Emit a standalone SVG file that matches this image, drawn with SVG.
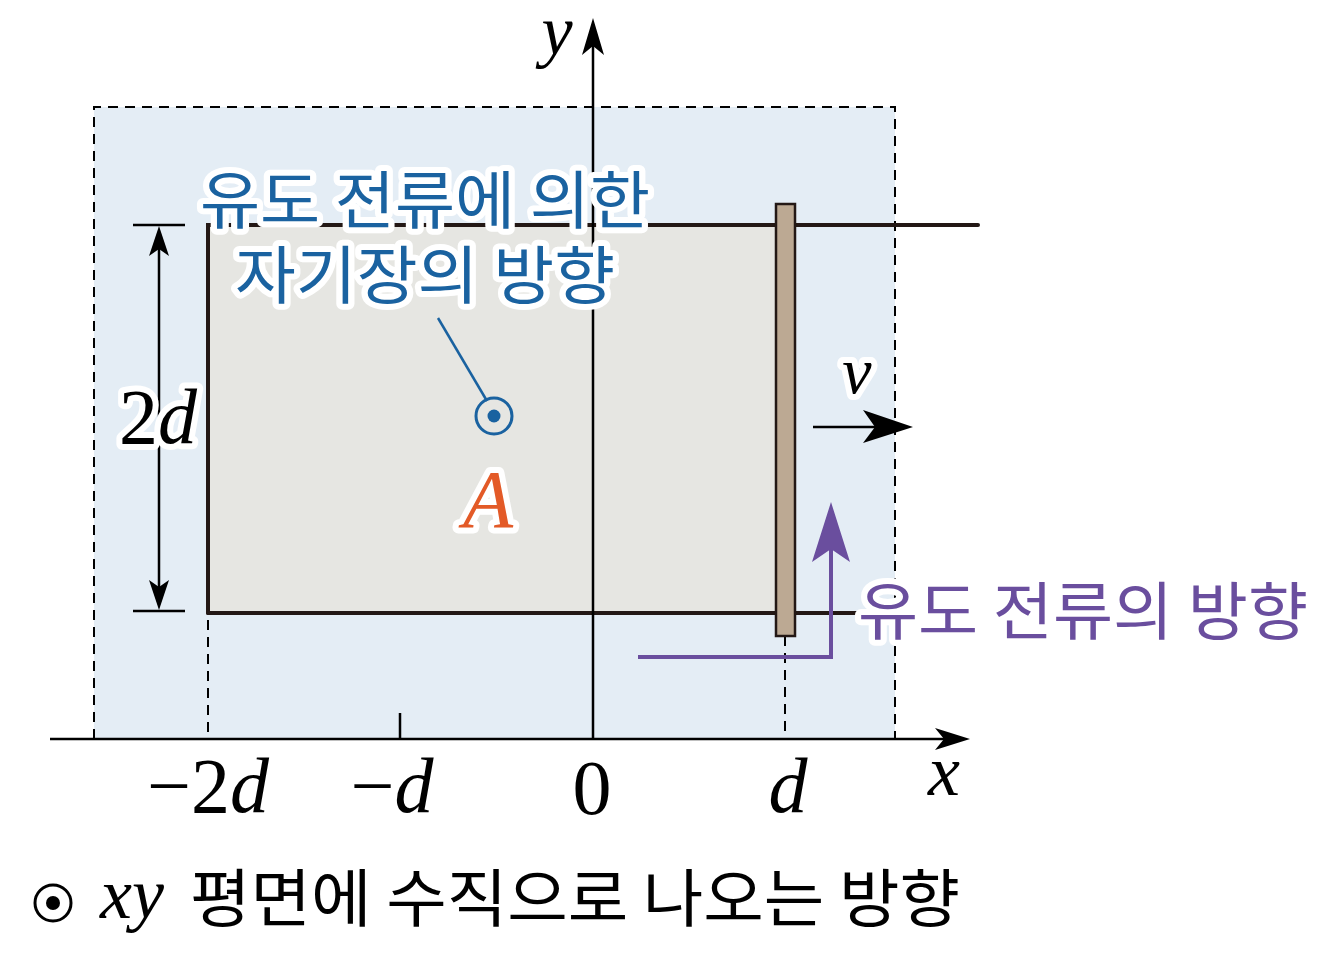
<svg xmlns="http://www.w3.org/2000/svg" width="1332" height="958" viewBox="0 0 1332 958">
<style>
.ln{stroke:#231815;stroke-width:4;fill:none;stroke-linecap:round}
.ax{stroke:#000;stroke-width:2.5;fill:none}
.dash{stroke:#000;stroke-width:2;fill:none;stroke-dasharray:10 7}
.kr{font-family:"Noto Sans CJK KR","Noto Sans",sans-serif;font-size:63px}
.halo{stroke:#fff;stroke-width:12;stroke-linejoin:round;paint-order:stroke}
.m{font-family:"Liberation Serif","DejaVu Serif",serif;font-style:italic}
.r{font-family:"Liberation Serif","DejaVu Serif",serif;font-style:normal}
</style>
<rect width="1332" height="958" fill="#fff"/>
<g id="field-region">
<rect x="94" y="107" width="801" height="632" fill="#e4edf5"/>
<path class="dash" d="M94 739V107H895V739"/>
</g>
<g id="loop-area">
<rect x="208" y="225" width="570" height="388" fill="#e6e6e2"/>
</g>
<g id="rails">
<path class="ln" d="M208 613V225H978"/>
<path class="ln" d="M208 613H875"/>
</g>
<g id="axes">
<path class="ax" d="M50 739H955"/>
<path d="M970 739L935 728L944 739L935 750Z" fill="#000"/>
<path class="ax" d="M593 739V40"/>
<path d="M593 18L582 55L593 46L604 55Z" fill="#000"/>
<path class="ax" d="M400 713V739"/>
<path class="dash" d="M208 620V739"/>
<path class="dash" d="M785 636V739"/>
<text class="m" x="557" y="54" font-size="70" text-anchor="middle">y</text>
<text class="m" x="944" y="795" font-size="72" text-anchor="middle">x</text>
<text x="208" y="812" font-size="78" text-anchor="middle" class="r">−2<tspan class="m">d</tspan></text>
<text x="392" y="812" font-size="78" text-anchor="middle" class="r">−<tspan class="m">d</tspan></text>
<text x="592" y="814" font-size="78" text-anchor="middle" class="r">0</text>
<text x="788" y="812" font-size="78" text-anchor="middle" class="m">d</text>
</g>
<g id="rod">
<rect x="776" y="204" width="19" height="432" fill="#bca993" stroke="#231815" stroke-width="2.5"/>
</g>
<g id="dimension">
<path class="ax" d="M133 225H185M133 611H185M159 240V596"/>
<path d="M159 226L149 256L159 249L169 256Z" fill="#000"/>
<path d="M159 610L149 580L159 587L169 580Z" fill="#000"/>
<text x="158" y="443" font-size="78" text-anchor="middle" class="r halo">2<tspan class="m">d</tspan></text>
</g>
<g id="velocity">
<path class="ax" d="M813 427H880" stroke-width="3.5"/>
<path d="M913 427L863 410L875 427L863 443Z" fill="#000"/>
<text class="m halo" x="857" y="393" font-size="66" text-anchor="middle">v</text>
</g>
<g id="field-label">
<text class="kr halo" x="200" y="223" fill="#1a62a0" textLength="450" lengthAdjust="spacingAndGlyphs">유도 전류에 의한</text>
<text class="kr halo" x="235" y="298" fill="#1a62a0" textLength="380" lengthAdjust="spacingAndGlyphs">자기장의 방향</text>
<path d="M438 318L487 401" stroke="#1a62a0" stroke-width="2.5" fill="none"/>
<circle cx="494" cy="416" r="18" fill="none" stroke="#1a62a0" stroke-width="3"/>
<circle cx="494" cy="416" r="6.5" fill="#1a62a0"/>
</g>
<g id="label-A">
<text class="m halo" x="488" y="527" font-size="82" text-anchor="middle" fill="#e35a27">A</text>
</g>
<g id="current">
<path d="M638 657H831V545" stroke="#6a4e9e" stroke-width="4" fill="none"/>
<path d="M831 502L812 562L831 549L850 562Z" fill="#6a4e9e"/>
<text class="kr halo" x="858" y="634" fill="#6a4e9e" textLength="450" lengthAdjust="spacingAndGlyphs">유도 전류의 방향</text>
</g>
<g id="legend">
<circle cx="53" cy="903" r="18" fill="none" stroke="#000" stroke-width="3"/>
<circle cx="53" cy="903" r="7" fill="#000"/>
<text class="m" x="100" y="918" font-size="72">xy</text>
<text class="kr" x="190" y="921" textLength="770" lengthAdjust="spacingAndGlyphs">평면에 수직으로 나오는 방향</text>
</g>
</svg>
